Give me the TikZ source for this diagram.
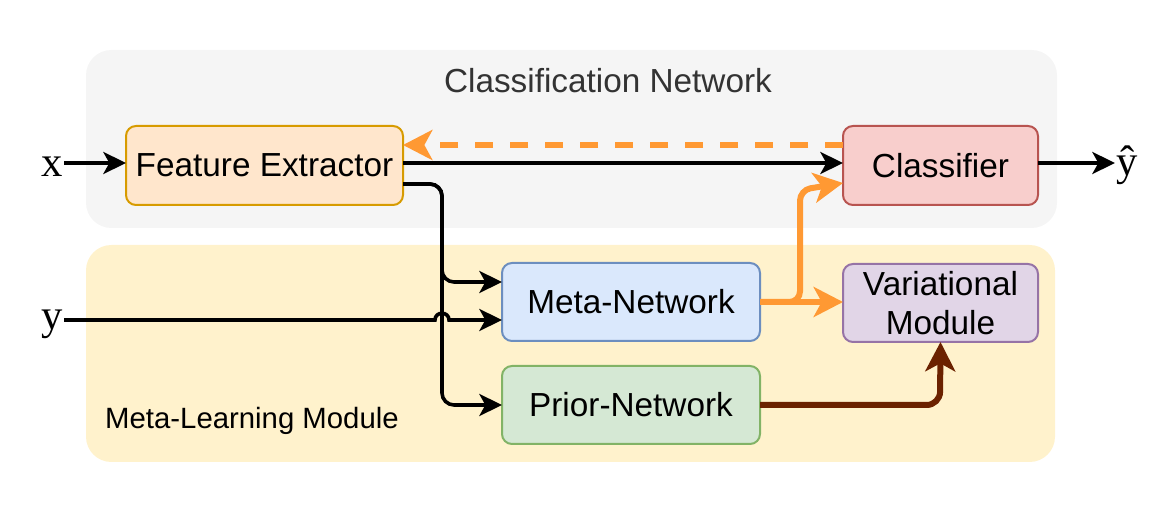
\documentclass[tikz,border=0pt]{standalone}
\usepackage{fontspec}
\setmainfont{Liberation Sans}
\newfontfamily\serifx{Liberation Serif}
\usetikzlibrary{arrows.meta}
\definecolor{feFill}{HTML}{FFE6CC}\definecolor{feLine}{HTML}{D79B00}
\definecolor{clFill}{HTML}{F8CECC}\definecolor{clLine}{HTML}{B85450}
\definecolor{mnFill}{HTML}{DAE8FC}\definecolor{mnLine}{HTML}{6C8EBF}
\definecolor{vmFill}{HTML}{E1D5E7}\definecolor{vmLine}{HTML}{9673A6}
\definecolor{pnFill}{HTML}{D5E8D4}\definecolor{pnLine}{HTML}{82B366}
\definecolor{grayBg}{HTML}{F5F5F5}\definecolor{yellowBg}{HTML}{FFF2CC}
\definecolor{orangeA}{HTML}{FF9933}\definecolor{brownA}{HTML}{6B2200}
\definecolor{titleGray}{HTML}{333333}
\tikzset{
  box/.style={draw, line width=1.5pt, rounded corners=7.5pt, inner sep=0pt, outer sep=0pt,
    font=\fontsize{25}{29}\selectfont, align=center},
  wideBox/.style={box, minimum width=193.5pt, minimum height=58.5pt},
  feBox/.style={box, minimum width=207.75pt, minimum height=59.25pt},
  smallBox/.style={box, minimum width=146.25pt, minimum height=58.5pt},
  blackArrow/.style={line width=2.7pt, -{Stealth[length=17pt,width=16.5pt,inset=4.5pt]}, rounded corners=9pt},
  orangeArrow/.style={draw=orangeA, line width=4.5pt, -{Stealth[length=22pt,width=22.5pt,inset=6pt]}, rounded corners=8pt},
  brownArrow/.style={draw=brownA, line width=4.5pt, -{Stealth[length=22pt,width=22.5pt,inset=6pt]}, rounded corners=10pt},
  varLabel/.style={font=\serifx\fontsize{32}{36}\selectfont, inner sep=1pt, outer sep=0pt},
  region/.style={rounded corners=19pt}
}
\begin{document}
\begin{tikzpicture}[x=0.75pt,y=-0.75pt]
\useasboundingbox (0,0) rectangle (1168,516);
% background regions
\fill[grayBg, region] (86,50) rectangle (1057,228);
\fill[yellowBg, region] (86,245) rectangle (1055,462);
\node[text=titleGray, font=\fontsize{25}{29}\selectfont] (title) at (608,81) {Classification Network};
\node[font=\fontsize{22}{26}\selectfont] (mlm) at (252,421) {Meta-Learning Module};
% boxes
\node[feBox, fill=feFill, draw=feLine] (fe) at (264.5,165.5) {Feature Extractor};
\node[smallBox, fill=clFill, draw=clLine, minimum height=59.25pt] (cl) at (940.5,165.5) {Classifier};
\node[wideBox, fill=mnFill, draw=mnLine] (mn) at (631,302) {Meta-Network};
\node[smallBox, fill=vmFill, draw=vmLine] (vm) at (940.5,303) {Variational\\Module};
\node[wideBox, fill=pnFill, draw=pnLine] (pn) at (631,405) {Prior-Network};
% variable labels
\node[varLabel, anchor=east] (xin) at (64,167) {x};
\node[varLabel, anchor=east] (yin) at (64,324) {y};
\node[varLabel, anchor=west] (yout) at (1115,165) {ŷ};
% connectors
\draw[blackArrow] (xin.east |- 0,163) -- (fe.west |- 0,163);
\draw[blackArrow] (fe.east |- 0,163) -- (cl.west |- 0,163);
\draw[blackArrow] (cl.east |- 0,163) -- (yout.west |- 0,163);
\draw[orangeArrow, dash pattern=on 13.5pt off 12.75pt] (cl.west |- 0,145) -- (fe.east |- 0,145);
\draw[blackArrow] (fe.east |- 0,184) -- (442,184) -- (442,282) -- (mn.west |- 0,282);
\draw[blackArrow] (fe.east |- 0,184) -- (442,184) -- (442,405) -- (pn.west);
\draw[blackArrow, rounded corners=0pt] (yin.east |- 0,320) -- (435,320) .. controls (435,311) and (449,311) .. (449,320) -- (mn.west |- 0,320);
\draw[orangeArrow] (mn.east) -- (vm.west |- mn.east);
\draw[orangeArrow] (mn.east) -- (800,302) -- (800,190) -- (cl.west |- 0,183);
\draw[brownArrow] (pn.east) -- (940,405) -- (vm.south);
\end{tikzpicture}
\end{document}
